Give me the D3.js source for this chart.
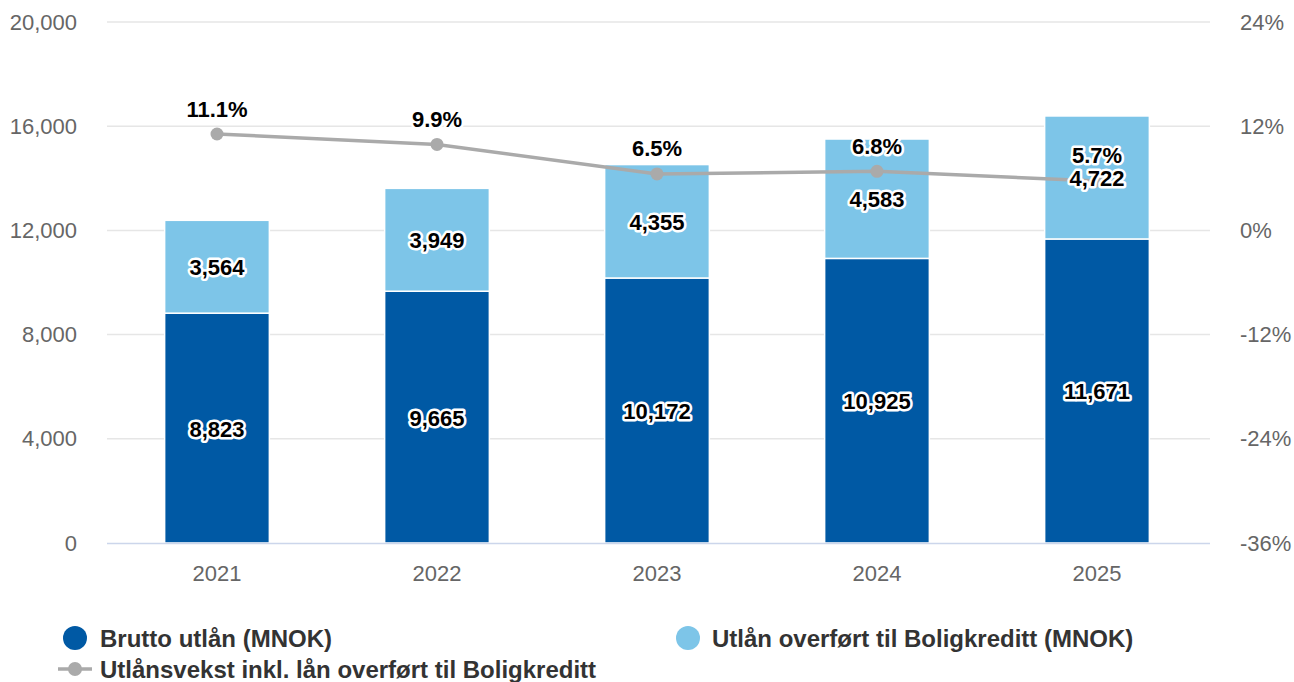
<!DOCTYPE html>
<html><head><meta charset="utf-8">
<script src="https://cdn.jsdelivr.net/npm/d3@7"></script>
<style>body{margin:0;background:#fff;font-family:"Liberation Sans",Arial,sans-serif}</style>
</head><body><svg id="c" width="1294" height="682"></svg>
<script>
const categories = ["2021","2022","2023","2024","2025"];
const brutto = [8823, 9665, 10172, 10925, 11671];
const overfort = [3564, 3949, 4355, 4583, 4722];
const vekst = [11.1, 9.9, 6.5, 6.8, 5.7];
const leftTicks = [0, 4000, 8000, 12000, 16000, 20000];
const rightTicks = [-36, -24, -12, 0, 12, 24];
const seriesNames = ["Brutto utlån (MNOK)", "Utlån overført til Boligkreditt (MNOK)", "Utlånsvekst inkl. lån overført til Boligkreditt"];
const colors = ["#0059a4", "#7dc5e8", "#aaaaaa"];

const svg = d3.select("#c");
const L = 107, R = 1210, T = 22, B = 543;
const x = d3.scaleBand().domain(categories).range([L, 1207]).paddingInner(0.524).paddingOuter(0.262);
const y = d3.scaleLinear().domain([0, 20000]).range([B, T]);
const y2 = d3.scaleLinear().domain([-36, 24]).range([B, T]);
const fmt = d3.format(",");
const FF = "Liberation Sans, Arial, sans-serif";

// grid
svg.append("g").selectAll("line").data(leftTicks.slice(1)).join("line")
  .attr("x1", L).attr("x2", R).attr("y1", d => y(d)).attr("y2", d => y(d))
  .attr("stroke", "#e6e6e6").attr("stroke-width", 1.5);

// left axis
const ga = svg.append("g").attr("transform", `translate(${L},0)`)
  .call(d3.axisLeft(y).tickValues(leftTicks).tickFormat(fmt).tickSize(0).tickPadding(30));
ga.select(".domain").remove();
ga.selectAll("text").attr("font-size", 22).attr("fill", "#666").attr("font-family", FF);

// right axis
const gr = svg.append("g").attr("transform", `translate(${R},0)`)
  .call(d3.axisRight(y2).tickValues(rightTicks).tickFormat(d => d + "%").tickSize(0).tickPadding(30));
gr.select(".domain").remove();
gr.selectAll("text").attr("font-size", 22).attr("fill", "#666").attr("font-family", FF);

// bars
const stacks = categories.map((c, i) => ({c, a: brutto[i], b: overfort[i]}));
const gb = svg.append("g");
gb.selectAll("rect.a").data(stacks).join("rect").attr("class","a")
  .attr("x", d => x(d.c)).attr("width", x.bandwidth())
  .attr("y", d => y(d.a)).attr("height", d => y(0) - y(d.a))
  .attr("fill", colors[0]).attr("stroke", "#fff").attr("stroke-width", 1.5);
gb.selectAll("rect.b").data(stacks).join("rect").attr("class","b")
  .attr("x", d => x(d.c)).attr("width", x.bandwidth())
  .attr("y", d => y(d.a + d.b)).attr("height", d => y(d.a) - y(d.a + d.b))
  .attr("fill", colors[1]).attr("stroke", "#fff").attr("stroke-width", 1.5);

// baseline
svg.append("line").attr("x1", L).attr("x2", R).attr("y1", B + 0.5).attr("y2", B + 0.5)
  .attr("stroke", "#ccd6eb").attr("stroke-width", 1.5);

// x axis labels
svg.append("g").selectAll("text").data(categories).join("text")
  .attr("x", d => x(d) + x.bandwidth() / 2).attr("y", 581)
  .attr("text-anchor", "middle").attr("font-size", 22).attr("fill", "#666").text(d => d);

// line
const cx = c => x(c) + x.bandwidth() / 2;
const line = d3.line().x((d, i) => cx(categories[i])).y(d => y2(d));
svg.append("path").datum(vekst).attr("d", line).attr("fill", "none")
  .attr("stroke", colors[2]).attr("stroke-width", 3.5);
svg.append("g").selectAll("circle").data(vekst).join("circle")
  .attr("cx", (d, i) => cx(categories[i])).attr("cy", d => y2(d)).attr("r", 6.5)
  .attr("fill", colors[2]);

function label(sel) {
  sel.attr("text-anchor", "middle").attr("font-size", 22).attr("font-weight", "bold")
    .attr("fill", "#000").attr("stroke", "#fff").attr("stroke-width", 5)
    .attr("stroke-linejoin", "round").attr("paint-order", "stroke")
    .attr("dominant-baseline", "central");
}
// bar labels
svg.append("g").selectAll("text").data(stacks).join("text")
  .attr("x", d => cx(d.c)).attr("y", d => (y(0) + y(d.a)) / 2 + 1).text(d => fmt(d.a)).call(label);
svg.append("g").selectAll("text").data(stacks).join("text")
  .attr("x", d => cx(d.c)).attr("y", d => (y(d.a) + y(d.a + d.b)) / 2 + 1).text(d => fmt(d.b)).call(label);
// line labels
svg.append("g").selectAll("text").data(vekst).join("text")
  .attr("x", (d, i) => cx(categories[i])).attr("y", d => y2(d) - 25).text(d => d.toFixed(1) + "%").call(label);

// legend
const lg = svg.append("g").attr("font-size", 24).attr("font-weight", "bold").attr("fill", "#333");
lg.append("circle").attr("cx", 75).attr("cy", 638).attr("r", 12).attr("fill", colors[0]);
lg.append("text").attr("x", 100).attr("y", 647).text(seriesNames[0]);
lg.append("circle").attr("cx", 688).attr("cy", 638).attr("r", 12).attr("fill", colors[1]);
lg.append("text").attr("x", 712).attr("y", 647).text(seriesNames[1]);
lg.append("line").attr("x1", 58).attr("x2", 92).attr("y1", 669).attr("y2", 669).attr("stroke", colors[2]).attr("stroke-width", 3.5);
lg.append("circle").attr("cx", 75).attr("cy", 669).attr("r", 7).attr("fill", colors[2]);
lg.append("text").attr("x", 100).attr("y", 678).text(seriesNames[2]);
</script></body></html>
